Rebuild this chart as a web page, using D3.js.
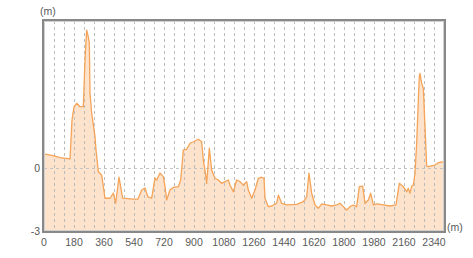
<!DOCTYPE html>
<html>
<head>
<meta charset="utf-8">
<script src="https://cdn.jsdelivr.net/npm/d3@7"></script>
<style>
  body { margin: 0; background: #fff; }
  text { font-family: 'Liberation Sans', Arial, sans-serif; font-size: 10.5px; fill: #5a5a5a; }
</style>
</head>
<body>
<div id="chart"></div>
<script>
// distance along the profile (m)
let distance = [0, 54, 96, 156, 168, 180, 196, 216, 236, 246, 256, 264, 272, 276, 286, 306, 312, 326, 346,
  366, 396, 416, 430, 450, 472, 534, 564, 586, 606, 624, 646, 666, 676, 696, 716, 726, 736, 756, 776, 806,
  820, 836, 856, 876, 896, 926, 946, 956, 966, 976, 992, 1006, 1026, 1046, 1066, 1086, 1106, 1116, 1136,
  1156, 1176, 1196, 1216, 1226, 1246, 1266, 1286, 1306, 1320, 1326, 1346, 1366, 1396, 1406, 1426, 1456,
  1516, 1556, 1576, 1590, 1606, 1626, 1646, 1666, 1696, 1726, 1756, 1776, 1796, 1816, 1836, 1856, 1876,
  1892, 1912, 1926, 1946, 1960, 1976, 2000, 2036, 2076, 2112, 2132, 2156, 2176, 2186, 2196, 2206, 2216,
  2226, 2236, 2246, 2252, 2256, 2266, 2276, 2286, 2296, 2306, 2346, 2366, 2400]

// elevation (m)
let elevation = [0.67, 0.59, 0.49, 0.43, 2.29, 2.9, 3.08, 2.92, 2.92, 5.14, 6.57, 6.3, 5.95, 3.57, 2.62, 1.49,
  0.86, -0.18, -0.33, -1.44, -1.44, -1.19, -1.67, -0.43, -1.43, -1.48, -1.48, -1.05, -0.95, -1.38, -1.43,
  -0.48, -0.57, -0.24, -0.41, -0.89, -1.52, -1.05, -0.92, -0.89, -0.57, 0.86, 0.89, 1.18, 1.25, 1.37, 1.25,
  0.38, -0.1, -0.73, 0.94, -0.1, -0.49, -0.57, -0.73, -0.65, -0.57, -0.81, -1.13, -0.57, -0.65, -0.81,
  -0.65, -1.05, -1.44, -1.05, -0.49, -0.44, -0.49, -1.44, -1.84, -1.81, -1.68, -1.29, -1.68, -1.76, -1.73,
  -1.6, -1.38, -0.24, -1.2, -1.76, -1.92, -1.71, -1.76, -1.81, -1.76, -1.68, -1.84, -2.0, -1.84, -1.76,
  -1.84, -0.89, -0.86, -1.68, -1.52, -1.2, -1.76, -1.71, -1.76, -1.81, -1.76, -0.73, -0.89, -1.13, -0.97,
  -1.2, -0.86, -0.81, -0.25, 1.18, 3.24, 4.35, 4.51, 4.03, 3.8, 1.97, 0.1, 0.06, 0.14, 0.25, 0.3]

let xTicks = [0, 180, 360, 540, 720, 900, 1080, 1260, 1440, 1620, 1800, 1980, 2160, 2340]
let yTicks = [0, -3]

let width = 473
let height = 258
let margin = { top: 21, left: 44, right: 29, bottom: 27 }

let svg = d3
  .select('#chart')
  .append('svg')
  .attr('width', width)
  .attr('height', height)

let x = d3.scaleLinear().domain([0, 2400]).range([margin.left, width - margin.right])
let y = d3.scaleLinear().domain([-3, 7]).range([height - margin.bottom, margin.top])

let points = distance.map((d, i) => [d, elevation[i]])

// filled profile
let area = d3.area()
  .x(d => x(d[0]))
  .y0(y(-3))
  .y1(d => y(d[1]))

svg.append('path')
  .datum(points)
  .attr('d', area)
  .attr('fill', '#fde2cc')

// dashed grid every 60 m
svg.append('g')
  .selectAll('line')
  .data(d3.range(60, 2400, 60))
  .enter()
  .append('line')
  .attr('x1', d => Math.round(x(d)) + 0.5)
  .attr('x2', d => Math.round(x(d)) + 0.5)
  .attr('y1', y(7))
  .attr('y2', y(-3))
  .attr('stroke', '#bbb')
  .attr('stroke-dasharray', '3,3')

svg.append('line')
  .attr('x1', x(0))
  .attr('x2', x(2400))
  .attr('y1', Math.round(y(0)) + 0.5)
  .attr('y2', Math.round(y(0)) + 0.5)
  .attr('stroke', '#c4c4c4')
  .attr('stroke-dasharray', '3,3')

let line = d3.line()
  .x(d => x(d[0]))
  .y(d => y(d[1]))

svg.append('path')
  .datum(points)
  .attr('d', line)
  .attr('fill', 'none')
  .attr('stroke', '#f5a458')
  .attr('stroke-width', 1.3)
  .attr('stroke-linejoin', 'round')

// frame
svg.append('rect')
  .attr('x', x(0) - 1)
  .attr('y', y(7) - 1)
  .attr('width', x(2400) - x(0) + 2)
  .attr('height', y(-3) - y(7) + 2)
  .attr('fill', 'none')
  .attr('stroke', '#888')
  .attr('stroke-width', 2)

svg.append('rect')
  .attr('x', x(0) + 0.5)
  .attr('y', y(7) + 0.5)
  .attr('width', x(2400) - x(0) - 1)
  .attr('height', y(-3) - y(7) - 1)
  .attr('fill', 'none')
  .attr('stroke', '#d0d0d0')
  .attr('stroke-width', 1)

// axis labels
svg.append('g')
  .selectAll('text')
  .data(xTicks)
  .enter()
  .append('text')
  .attr('x', d => x(d))
  .attr('y', height - margin.bottom + 15)
  .attr('text-anchor', 'middle')
  .text(d => d)

svg.append('g')
  .selectAll('text')
  .data(yTicks)
  .enter()
  .append('text')
  .attr('x', margin.left - 4)
  .attr('y', d => y(d) + 4)
  .attr('text-anchor', 'end')
  .text(d => d)

svg.append('text')
  .attr('x', margin.left - 4)
  .attr('y', 15)
  .text('(m)')

svg.append('text')
  .attr('x', width - margin.right + 3)
  .attr('y', height - margin.bottom)
  .text('(m)')
</script>
</body>
</html>
